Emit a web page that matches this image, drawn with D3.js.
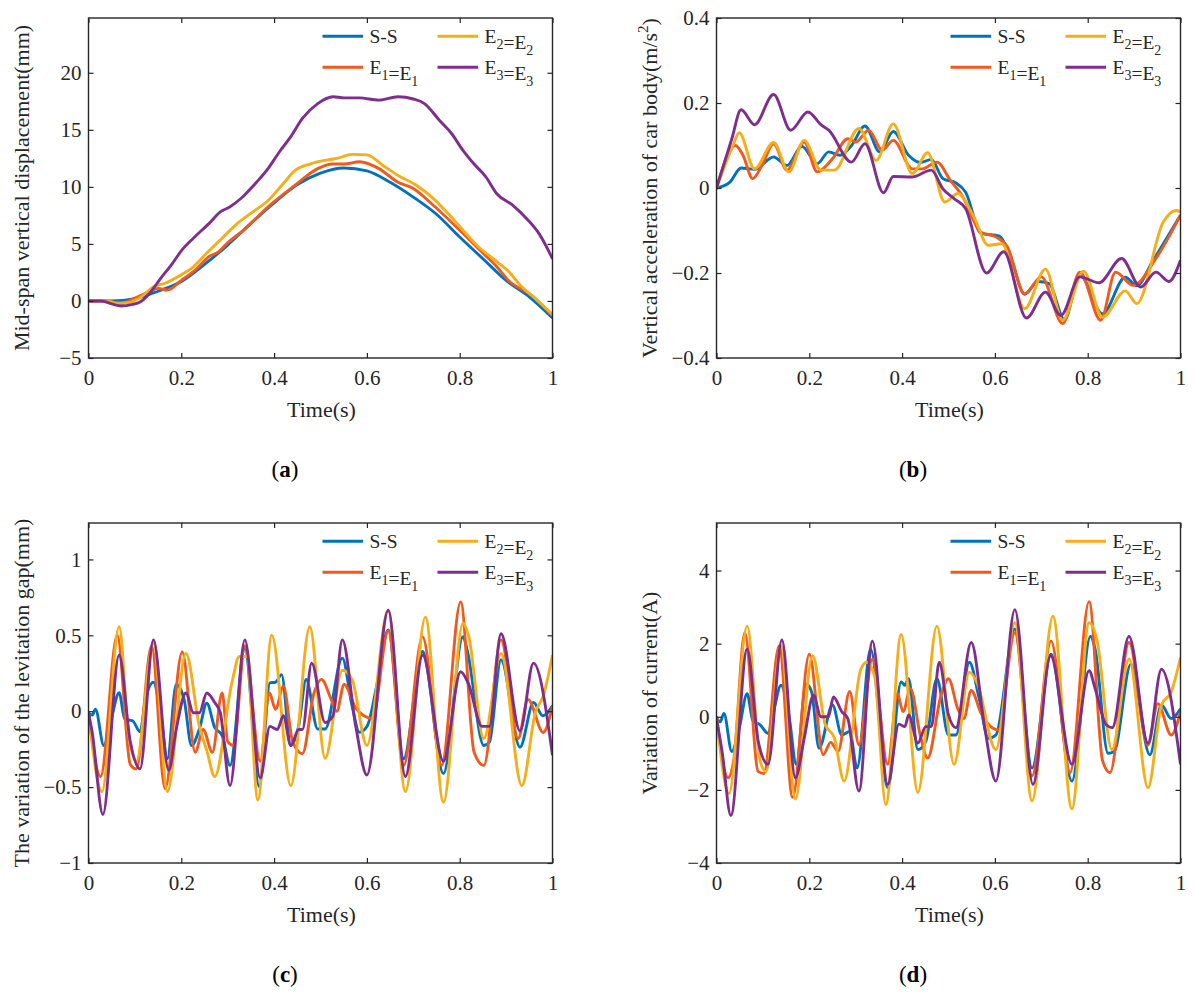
<!DOCTYPE html>
<html>
<head>
<meta charset="utf-8">
<script src="https://cdn.jsdelivr.net/npm/d3@7"></script>
<style>
  body { margin: 0; background: #fff; }
  svg { display: block; font-family: "Liberation Serif", "Times New Roman", serif; }
</style>
</head>
<body>
<svg id="chart" width="1197" height="998"></svg>
<script>
// Series as [time (s), value] knots
const dispSS = [[0,0],[0.05,0],[0.1,0.2],[0.15,0.85],[0.2,1.7],[0.25,3.2],[0.3,4.9],[0.35,6.8],[0.4,8.6],[0.45,10.2],[0.5,11.2],[0.55,11.65],[0.6,11.4],[0.65,10.4],[0.7,9.1],[0.75,7.6],[0.8,5.6],[0.85,3.7],[0.9,1.8],[0.95,0.35],[1,-1.5]];
const dispE1 = [[0,0],[0.04,0],[0.07,-0.2],[0.1,0.25],[0.13,0.8],[0.15,1.1],[0.17,0.95],[0.2,1.8],[0.23,2.7],[0.26,3.9],[0.28,4.3],[0.3,5.1],[0.337,6.3],[0.387,8.25],[0.444,10.1],[0.494,11.6],[0.527,12.0],[0.551,12.0],[0.584,12.2],[0.626,11.6],[0.667,10.4],[0.7,9.85],[0.74,8.5],[0.8,6.2],[0.85,4.2],[0.88,3.0],[0.905,1.8],[0.955,0.5],[1,-1.3]];
const dispE2 = [[0,0],[0.04,0],[0.06,-0.2],[0.085,-0.15],[0.115,0.4],[0.14,1.25],[0.165,1.55],[0.2,2.3],[0.222,2.85],[0.255,4.2],[0.288,5.5],[0.321,6.8],[0.354,7.8],[0.387,8.8],[0.42,10.3],[0.444,11.4],[0.477,12.0],[0.52,12.4],[0.535,12.5],[0.568,12.85],[0.6,12.8],[0.634,11.9],[0.667,11.0],[0.708,10.1],[0.74,9.1],[0.774,7.7],[0.807,6.2],[0.84,4.75],[0.872,3.7],[0.905,2.6],[0.93,1.4],[0.963,0.2],[1,-1.2]];
const dispE3 = [[0,0],[0.029,0],[0.05,-0.26],[0.07,-0.44],[0.095,-0.3],[0.111,-0.1],[0.128,0.5],[0.156,2.0],[0.181,3.3],[0.202,4.5],[0.226,5.5],[0.26,6.8],[0.284,7.8],[0.305,8.25],[0.329,9.0],[0.362,10.4],[0.387,11.6],[0.412,13.1],[0.436,14.4],[0.461,16.0],[0.494,17.3],[0.527,17.9],[0.551,17.8],[0.584,17.8],[0.626,17.6],[0.667,17.9],[0.7,17.7],[0.724,17.3],[0.757,15.8],[0.782,14.7],[0.807,13.2],[0.831,12.0],[0.856,10.9],[0.88,9.4],[0.914,8.4],[0.947,7.1],[0.971,5.9],[1,3.7]];

const accSS = [[0,0],[0.029,0.014],[0.053,0.047],[0.082,0.044],[0.123,0.073],[0.152,0.053],[0.184,0.098],[0.217,0.057],[0.242,0.085],[0.266,0.077],[0.291,0.1],[0.32,0.146],[0.352,0.085],[0.381,0.133],[0.414,0.077],[0.439,0.06],[0.463,0.067],[0.488,0.022],[0.516,0.012],[0.537,-0.01],[0.57,-0.107],[0.61,-0.113],[0.635,-0.166],[0.664,-0.25],[0.693,-0.22],[0.717,-0.225],[0.75,-0.31],[0.783,-0.205],[0.832,-0.296],[0.881,-0.21],[0.906,-0.23],[0.939,-0.174],[1,-0.064]];
const accE1 = [[0,0],[0.041,0.1],[0.057,0.077],[0.078,0.022],[0.098,0.053],[0.123,0.104],[0.152,0.042],[0.189,0.108],[0.217,0.038],[0.25,0.069],[0.283,0.116],[0.3,0.108],[0.328,0.136],[0.357,0.089],[0.381,0.112],[0.422,0.045],[0.443,0.045],[0.475,0.061],[0.504,0.018],[0.529,-0.017],[0.57,-0.104],[0.602,-0.115],[0.627,-0.139],[0.664,-0.249],[0.7,-0.209],[0.746,-0.319],[0.783,-0.198],[0.828,-0.311],[0.86,-0.198],[0.898,-0.229],[0.947,-0.166],[1,-0.064]];
const accE2 = [[0,0],[0.033,0.093],[0.049,0.13],[0.082,0.045],[0.123,0.107],[0.156,0.038],[0.189,0.112],[0.225,0.042],[0.254,0.042],[0.307,0.14],[0.344,0.065],[0.381,0.151],[0.422,0.034],[0.455,0.083],[0.492,-0.033],[0.52,-0.013],[0.553,-0.064],[0.586,-0.135],[0.615,-0.131],[0.664,-0.284],[0.709,-0.191],[0.746,-0.311],[0.791,-0.196],[0.832,-0.304],[0.881,-0.242],[0.906,-0.272],[0.963,-0.08],[0.99,-0.053],[1,-0.056]];
const accE3 = [[0,0],[0.033,0.116],[0.053,0.184],[0.082,0.149],[0.123,0.22],[0.16,0.136],[0.197,0.179],[0.225,0.149],[0.242,0.136],[0.291,0.061],[0.32,0.104],[0.36,-0.011],[0.381,0.027],[0.422,0.026],[0.463,0.042],[0.488,-0.002],[0.512,-0.025],[0.537,-0.049],[0.582,-0.2],[0.619,-0.15],[0.668,-0.306],[0.709,-0.245],[0.742,-0.3],[0.783,-0.209],[0.824,-0.223],[0.873,-0.166],[0.914,-0.233],[0.947,-0.198],[0.975,-0.22],[1,-0.17]];

const gapSS = [[0,-0.01],[0.008,-0.026],[0.015,0.013],[0.033,-0.226],[0.049,-0.052],[0.066,0.122],[0.078,-0.052],[0.095,-0.063],[0.111,-0.135],[0.123,0.078],[0.14,0.191],[0.156,-0.03],[0.17,-0.313],[0.189,0.176],[0.206,0.078],[0.222,-0.226],[0.239,-0.117],[0.255,0.052],[0.272,-0.107],[0.288,-0.161],[0.305,-0.357],[0.337,0.415],[0.368,-0.498],[0.391,0.187],[0.403,0.191],[0.416,0.241],[0.436,-0.226],[0.453,-0.096],[0.469,0.209],[0.494,-0.117],[0.51,-0.117],[0.547,0.35],[0.568,0.035],[0.584,-0.139],[0.601,-0.096],[0.621,0.165],[0.646,0.535],[0.679,-0.313],[0.72,0.393],[0.765,-0.411],[0.807,0.491],[0.816,0.404],[0.852,-0.226],[0.864,-0.204],[0.889,0.339],[0.93,-0.237],[0.959,0.057],[0.979,-0.03],[1,0.035]];
const gapE1 = [[0,-0.01],[0.026,-0.43],[0.062,0.5],[0.09,-0.35],[0.103,-0.38],[0.136,0.43],[0.165,-0.51],[0.202,0.39],[0.23,-0.27],[0.247,-0.12],[0.267,-0.27],[0.288,0.12],[0.3,-0.2],[0.313,-0.226],[0.337,0.43],[0.37,-0.33],[0.39,0.12],[0.403,0.013],[0.42,0.165],[0.44,-0.2],[0.461,-0.28],[0.486,0.12],[0.502,0.21],[0.523,0.078],[0.535,0],[0.551,0.176],[0.576,0.02],[0.6,-0.04],[0.612,-0.05],[0.646,0.53],[0.679,-0.357],[0.72,0.49],[0.761,-0.357],[0.802,0.72],[0.831,-0.27],[0.852,-0.357],[0.889,0.47],[0.926,-0.18],[0.947,0.078],[0.98,-0.14],[1,0.035]];
const gapE2 = [[0,-0.01],[0.029,-0.53],[0.066,0.556],[0.086,-0.14],[0.103,-0.33],[0.14,0.45],[0.17,-0.53],[0.21,0.38],[0.239,-0.1],[0.255,-0.26],[0.272,-0.43],[0.309,0.187],[0.325,0.36],[0.341,0.36],[0.365,-0.585],[0.395,0.5],[0.436,-0.49],[0.477,0.556],[0.51,-0.31],[0.547,0.27],[0.568,0.21],[0.6,-0.226],[0.646,0.665],[0.683,-0.53],[0.726,0.62],[0.765,-0.6],[0.807,0.58],[0.819,0.5],[0.852,-0.18],[0.889,0.38],[0.934,-0.49],[0.963,-0.01],[0.98,0.1],[1,0.37]];
const gapE3 = [[0,-0.01],[0.008,-0.14],[0.031,-0.68],[0.066,0.37],[0.09,-0.2],[0.111,-0.38],[0.14,0.47],[0.173,-0.39],[0.189,-0.12],[0.21,0.12],[0.226,-0.01],[0.239,-0.01],[0.255,0.12],[0.272,0.057],[0.284,-0.01],[0.305,-0.49],[0.337,0.47],[0.37,-0.44],[0.391,-0.1],[0.407,-0.12],[0.42,-0.03],[0.436,-0.226],[0.453,-0.12],[0.461,-0.12],[0.481,0.317],[0.51,-0.075],[0.527,-0.03],[0.547,0.47],[0.576,-0.1],[0.6,-0.42],[0.646,0.665],[0.683,-0.43],[0.72,0.37],[0.765,-0.33],[0.802,0.26],[0.819,0.18],[0.848,-0.1],[0.864,-0.1],[0.889,0.51],[0.93,-0.13],[0.959,0.317],[1,-0.29]];

const curSS = [[0,0],[0.008,-0.14],[0.016,0.09],[0.033,-0.95],[0.049,-0.32],[0.066,0.63],[0.078,-0.09],[0.094,-0.22],[0.111,-0.45],[0.123,0.14],[0.139,0.86],[0.156,0.05],[0.172,-1.3],[0.193,0.9],[0.205,0.68],[0.221,-0.86],[0.25,0.32],[0.27,-0.5],[0.287,-0.4],[0.303,-1.4],[0.332,1.85],[0.369,-1.94],[0.398,0.95],[0.406,0.86],[0.414,1.04],[0.434,-0.9],[0.451,-0.68],[0.475,1.04],[0.5,-0.5],[0.516,-0.5],[0.545,1.49],[0.566,0.5],[0.586,-0.59],[0.602,-0.5],[0.643,2.4],[0.68,-1.4],[0.721,1.71],[0.766,-1.76],[0.806,2.2],[0.816,1.85],[0.844,-1.0],[0.857,-0.95],[0.893,1.44],[0.934,-1.04],[0.959,0.32],[0.98,-0.05],[1,0.22]];
const curE1 = [[0,0],[0.025,-1.67],[0.037,-1.2],[0.061,2.3],[0.09,-1.5],[0.102,-1.55],[0.135,1.94],[0.164,-2.2],[0.2,1.71],[0.23,-1.04],[0.246,-0.7],[0.262,-0.95],[0.287,0.69],[0.307,-0.77],[0.336,1.58],[0.369,-1.3],[0.39,0.63],[0.402,0.14],[0.418,0.77],[0.439,-0.5],[0.455,-1.13],[0.484,0.59],[0.5,1.04],[0.52,0.22],[0.533,-0.05],[0.549,0.72],[0.57,0.1],[0.594,-0.3],[0.607,-0.36],[0.643,2.3],[0.68,-1.62],[0.721,2.07],[0.762,-1.53],[0.803,3.15],[0.832,-1.2],[0.848,-1.53],[0.889,2.03],[0.93,-0.77],[0.951,0.36],[0.98,-0.5],[1,0.14]];
const curE2 = [[0,0],[0.027,-2.1],[0.066,2.48],[0.094,-1.2],[0.107,-1.5],[0.139,1.94],[0.17,-2.25],[0.207,1.67],[0.234,-0.2],[0.254,-0.58],[0.275,-1.76],[0.311,1.3],[0.324,1.49],[0.341,1.1],[0.365,-2.4],[0.398,2.25],[0.434,-2.07],[0.475,2.48],[0.512,-1.3],[0.545,1.22],[0.561,0.95],[0.602,-0.9],[0.643,2.57],[0.68,-2.3],[0.725,2.75],[0.766,-2.52],[0.803,2.57],[0.82,2.1],[0.852,-0.9],[0.889,1.58],[0.93,-1.94],[0.959,0.32],[0.98,0.68],[1,1.62]];
const curE3 = [[0,-0.05],[0.012,-0.95],[0.031,-2.7],[0.066,1.85],[0.09,-0.68],[0.111,-1.3],[0.141,2.1],[0.17,-1.67],[0.189,-0.59],[0.209,0.59],[0.225,0],[0.241,0],[0.252,0.54],[0.27,0.14],[0.283,-0.05],[0.307,-2.03],[0.336,2.07],[0.369,-1.85],[0.393,-0.2],[0.406,-0.27],[0.414,0.05],[0.434,-0.72],[0.451,-0.27],[0.463,-0.27],[0.48,1.49],[0.5,0.05],[0.516,-0.3],[0.549,2.03],[0.578,-0.3],[0.602,-1.76],[0.643,2.93],[0.682,-1.85],[0.72,1.67],[0.766,-1.3],[0.803,1.26],[0.816,0.77],[0.84,-0.22],[0.853,-0.3],[0.889,2.2],[0.93,-0.72],[0.959,1.3],[1,-1.3]];

// legend entries: [base, subscript] pairs, null subscript for plain text
const legendNames = [[["S-S", null]], [["E", "1"], ["=E", "1"]], [["E", "2"], ["=E", "2"]], [["E", "3"], ["=E", "3"]]];
const seriesColors = ["#0072BD", "#EF5A1E", "#F5AE17", "#7E2F8E"];
const xTicks = [0, 0.2, 0.4, 0.6, 0.8, 1];

const panels = [
  { tag: "a", left: 88.5, top: 18, yDomain: [-5, 24.8], yTicks: [-5, 0, 5, 10, 15, 20],
    ylabel: [["Mid-span vertical displacement(mm)", null]], series: [dispSS, dispE1, dispE2, dispE3] },
  { tag: "b", left: 716.5, top: 18, yDomain: [-0.4, 0.4], yTicks: [-0.4, -0.2, 0, 0.2, 0.4],
    ylabel: [["Vertical acceleration of car body(m/s", null], ["2", "sup"], [")", null]], series: [accSS, accE1, accE2, accE3] },
  { tag: "c", left: 88.5, top: 523, yDomain: [-1, 1.24], yTicks: [-1, -0.5, 0, 0.5, 1],
    ylabel: [["The variation of the levitation gap(mm)", null]], series: [gapSS, gapE1, gapE2, gapE3] },
  { tag: "d", left: 716.5, top: 523, yDomain: [-4, 5.3], yTicks: [-4, -2, 0, 2, 4],
    ylabel: [["Variation of current(A)", null]], series: [curSS, curE1, curE2, curE3] }
];

const W = 464, H = 340;
const INK = "#262626";
const svg = d3.select("#chart");
const fmt = d3.format("~g");
const x = d3.scaleLinear().domain([0, 1]).range([0, W]);

panels.forEach((p, i) => {
  const y = d3.scaleLinear().domain(p.yDomain).range([H, 0]);
  const g = svg.append("g").attr("transform", `translate(${p.left},${p.top})`);

  g.append("clipPath").attr("id", "clip" + i)
    .append("rect").attr("width", W).attr("height", H);

  const line = d3.line()
    .x(d => x(d[0]))
    .y(d => y(d[1]))
    .curve(d3.curveMonotoneX);

  g.append("g").attr("clip-path", `url(#clip${i})`)
    .selectAll("path")
    .data(p.series)
    .join("path")
    .attr("d", line)
    .attr("fill", "none")
    .attr("stroke", (d, k) => seriesColors[k])
    .attr("stroke-width", 2.9)
    .attr("stroke-linejoin", "round");

  // axes: inward ticks on all four sides, labels on bottom and left only
  const styleAxis = sel => {
    sel.select(".domain").remove();
    sel.attr("font-family", null).attr("font-size", 21);
    sel.selectAll("line").attr("stroke", INK).attr("stroke-width", 1.2);
    sel.selectAll("text").attr("fill", INK);
  };
  g.append("g").attr("transform", `translate(0,${H})`)
    .call(d3.axisBottom(x).tickValues(xTicks).tickFormat(fmt).tickSizeInner(-5).tickSizeOuter(0).tickPadding(12))
    .call(styleAxis);
  g.append("g")
    .call(d3.axisTop(x).tickValues(xTicks).tickFormat("").tickSizeInner(-5).tickSizeOuter(0))
    .call(styleAxis);
  g.append("g")
    .call(d3.axisLeft(y).tickValues(p.yTicks).tickFormat(fmt).tickSizeInner(-5).tickSizeOuter(0).tickPadding(7))
    .call(styleAxis);
  g.append("g").attr("transform", `translate(${W},0)`)
    .call(d3.axisRight(y).tickValues(p.yTicks).tickFormat("").tickSizeInner(-5).tickSizeOuter(0))
    .call(styleAxis);

  g.append("rect")
    .attr("width", W).attr("height", H)
    .attr("fill", "none").attr("stroke", INK).attr("stroke-width", 1.4);

  // axis titles
  g.append("text")
    .attr("x", W / 2 + 1).attr("y", H + 59)
    .attr("text-anchor", "middle").attr("font-size", 22).attr("fill", INK)
    .text("Time(s)");

  const yl = g.append("text")
    .attr("transform", `translate(-60,${H / 2}) rotate(-90)`)
    .attr("text-anchor", "middle").attr("font-size", 22).attr("fill", INK);
  p.ylabel.forEach(([txt, kind]) => {
    if (kind === "sup") {
      yl.append("tspan").attr("dy", -9).attr("font-size", 15).text(txt);
    } else {
      const t = yl.append("tspan").text(txt);
      if (txt === ")") t.attr("dy", 9);
    }
  });

  // legend, two columns
  const leg = g.append("g").attr("transform", `translate(${W},0)`);
  const cols = [-230, -115];
  legendNames.forEach((parts, k) => {
    const cx = cols[Math.floor(k / 2)];
    const ly = 18.3 + (k % 2) * 31;
    leg.append("line")
      .attr("x1", cx).attr("x2", cx + 40.6)
      .attr("y1", ly).attr("y2", ly)
      .attr("stroke", seriesColors[k]).attr("stroke-width", 2.9);
    const t = leg.append("text")
      .attr("x", cx + 47).attr("y", ly + 6.5)
      .attr("font-size", 19.5).attr("fill", INK);
    parts.forEach(([base, sub]) => {
      t.append("tspan").text(base);
      if (sub) {
        t.append("tspan").attr("dy", 6).attr("font-size", 14).text(sub);
        t.append("tspan").attr("dy", -6).text("");
      }
    });
  });

  // panel tag like (a)
  const tag = g.append("text")
    .attr("x", 196.5).attr("y", H + 119)
    .attr("text-anchor", "middle").attr("font-size", 23).attr("fill", "#000");
  tag.append("tspan").text("(");
  tag.append("tspan").attr("font-weight", "bold").text(p.tag);
  tag.append("tspan").text(")");
});
</script>
</body>
</html>
